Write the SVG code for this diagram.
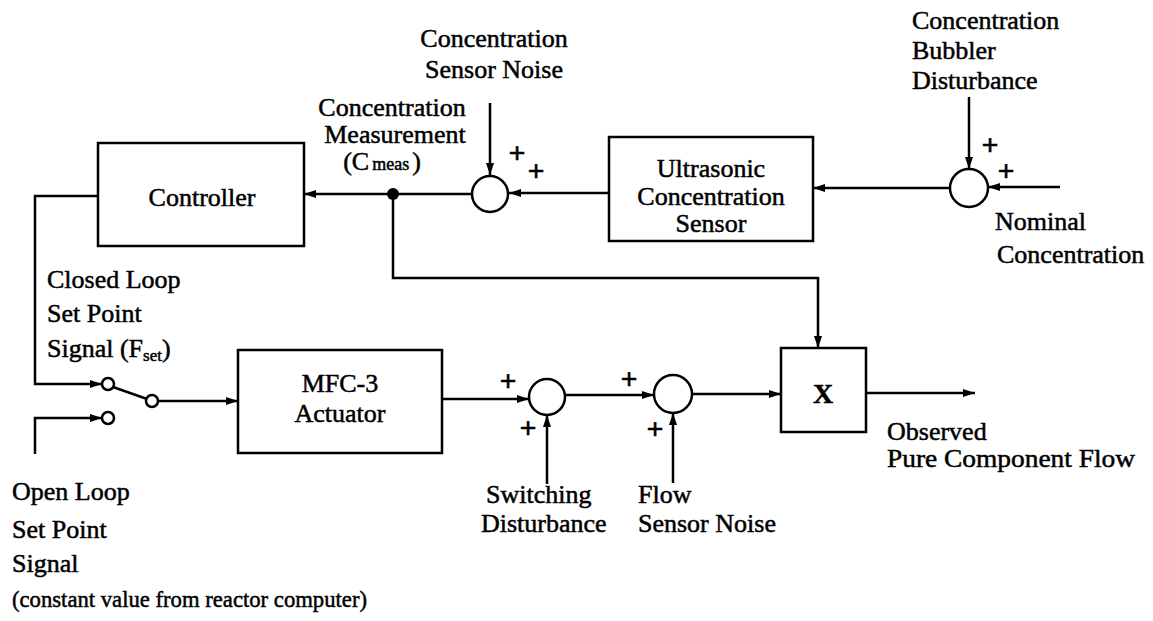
<svg xmlns="http://www.w3.org/2000/svg" width="1153" height="621" viewBox="0 0 1153 621">
<style>
text{fill:#000;stroke:#000;stroke-width:0.5}
.c{text-anchor:middle}
.p{font-size:30px;font-weight:bold;text-anchor:middle;dominant-baseline:central}
.box{fill:#fff;stroke:#000;stroke-width:2.5}
.sum{fill:#fff;stroke:#000;stroke-width:2.5}
.w{fill:none;stroke:#000;stroke-width:2.5}
.sm{font-size:18px}
.sub{font-size:17px}
</style>
<defs>
<marker id="a" markerWidth="12" markerHeight="8" refX="12" refY="4" orient="auto" markerUnits="userSpaceOnUse">
<path d="M0,0 L12,4 L0,8 z" fill="#000"/>
</marker>
</defs>
<rect width="1153" height="621" fill="#fff"/>

<g id="connectors" class="w">
<path d="M472,194 H304" marker-end="url(#a)"/>
<path d="M609,193 H509" marker-end="url(#a)"/>
<path d="M490,103 V175" marker-end="url(#a)"/>
<path d="M950,188 H813" marker-end="url(#a)"/>
<path d="M969,97 V169" marker-end="url(#a)"/>
<path d="M1060,187 H988" marker-end="url(#a)"/>
<path d="M98,196 H35 V384 H102" marker-end="url(#a)"/>
<path d="M35,454 V418 H102" marker-end="url(#a)"/>
<path d="M113,387 L147,399"/>
<path d="M158,401 H238" marker-end="url(#a)"/>
<path d="M442,399 H529" marker-end="url(#a)"/>
<path d="M565,395 H654" marker-end="url(#a)"/>
<path d="M692,394 H781" marker-end="url(#a)"/>
<path d="M866,393 H975" marker-end="url(#a)"/>
<path d="M393,194 V278 H818 V348" marker-end="url(#a)"/>
<path d="M547,484 V415" marker-end="url(#a)"/>
<path d="M673,483 V413" marker-end="url(#a)"/>
</g>

<g font-family="Liberation Serif, Times New Roman, DejaVu Serif, serif" font-size="26">
<g id="controller">
<rect class="box" x="98" y="143" width="206" height="103"/>
<text class="c" x="202" y="206">Controller</text>
</g>

<g id="ultrasonic">
<rect class="box" x="609" y="137" width="204" height="104"/>
<text class="c" x="711" y="177">Ultrasonic</text>
<text class="c" x="711" y="205">Concentration</text>
<text class="c" x="711" y="232">Sensor</text>
</g>

<g id="mfc">
<rect class="box" x="238" y="350" width="204" height="103"/>
<text class="c" x="340" y="392">MFC-3</text>
<text class="c" x="340" y="422">Actuator</text>
</g>

<g id="multiplier">
<rect class="box" x="781" y="348" width="85" height="84"/>
<text x="823" y="403" class="c" font-weight="bold" font-size="28">X</text>
</g>

<g id="sum-sensor">
<circle class="sum" cx="490" cy="194" r="18"/>
<text class="p" x="517" y="152">+</text>
<text class="p" x="536" y="170">+</text>
</g>

<g id="sum-bubbler">
<circle class="sum" cx="969" cy="188" r="19"/>
<text class="p" x="990" y="144">+</text>
<text class="p" x="1006" y="170">+</text>
</g>

<g id="sum-switching">
<circle class="sum" cx="547" cy="397" r="18"/>
<text class="p" x="508" y="380">+</text>
<text class="p" x="528" y="427">+</text>
</g>

<g id="sum-flow">
<circle class="sum" cx="673" cy="394" r="19"/>
<text class="p" x="629" y="378">+</text>
<text class="p" x="655" y="428">+</text>
</g>

<g id="junction">
<circle cx="393" cy="194" r="6" fill="#000"/>
</g>

<g id="switch">
<circle class="sum" cx="108" cy="384" r="6"/>
<circle class="sum" cx="108" cy="418" r="6"/>
<circle class="sum" cx="152" cy="401" r="6"/>
</g>

<g id="labels">
<text class="c" x="494" y="47">Concentration</text>
<text class="c" x="494" y="78">Sensor Noise</text>

<text class="c" x="392" y="116">Concentration</text>
<text class="c" x="395" y="143">Measurement</text>
<text class="c" x="382" y="170">(C<tspan class="sm" dx="3">meas</tspan><tspan dx="3">)</tspan></text>

<text x="912" y="29">Concentration</text>
<text x="912" y="59">Bubbler</text>
<text x="912" y="89">Disturbance</text>

<text x="995" y="230">Nominal</text>
<text x="997" y="263">Concentration</text>

<text x="47" y="288">Closed Loop</text>
<text x="47" y="322">Set Point</text>
<text x="47" y="357">Signal (F<tspan class="sub" dy="4">set</tspan><tspan dy="-4">)</tspan></text>

<text x="12" y="500">Open Loop</text>
<text x="12" y="538">Set Point</text>
<text x="12" y="572">Signal</text>
<text x="12" y="607" font-size="24" textLength="355" lengthAdjust="spacingAndGlyphs">(constant value from reactor computer)</text>

<text x="486" y="503">Switching</text>
<text x="481" y="532">Disturbance</text>

<text x="638" y="503">Flow</text>
<text x="638" y="532">Sensor Noise</text>

<text x="887" y="440">Observed</text>
<text x="887" y="467" textLength="248" lengthAdjust="spacingAndGlyphs">Pure Component Flow</text>
</g>
</g>
</svg>
